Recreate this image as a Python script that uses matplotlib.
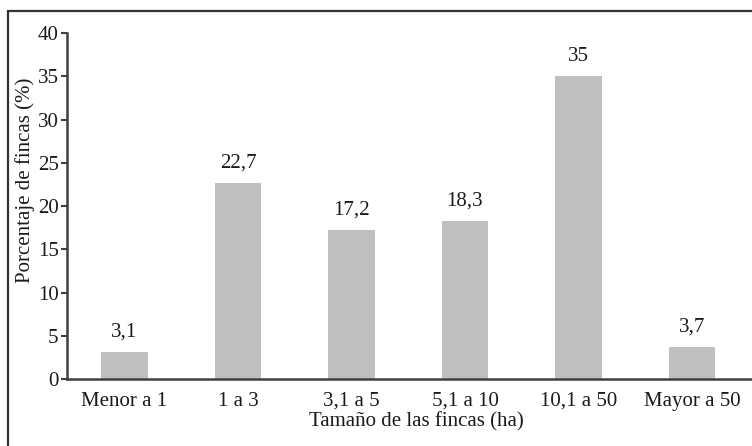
import matplotlib
matplotlib.use("Agg")
import matplotlib.pyplot as plt
from matplotlib.patches import Rectangle

categorias = ["Menor a 1", "1 a 3", "3,1 a 5", "5,1 a 10", "10,1 a 50", "Mayor a 50"]
porcentajes = [3.1, 22.7, 17.2, 18.3, 35, 3.7]
etiquetas = ["3,1", "22,7", "17,2", "18,3", "35", "3,7"]

plt.rcParams['font.family'] = ['Liberation Serif', 'DejaVu Serif']
fs = 15

fig = plt.figure(figsize=(7.52, 4.46), dpi=100)
ax = fig.add_axes([0.0891, 0.1502, 0.928, 0.7758])

x = list(range(len(categorias)))
ax.bar(x, porcentajes, width=0.41, color='#bfbfbf')
for xi, v, t in zip(x, porcentajes, etiquetas):
    ax.text(xi, v + 1.2, t, ha='center', va='bottom', fontsize=fs, color='#1a1a1a')

ax.set_xlim(-0.507, 5.643)
ax.set_ylim(0, 40)
ax.set_yticks(range(0, 41, 5))
ax.set_xticks(x)
ax.set_xticklabels(categorias)
ax.tick_params(axis='x', length=0, pad=9, labelsize=fs, colors='#1a1a1a')
ax.tick_params(axis='y', length=4, width=1.5, pad=2, labelsize=fs, colors='#1a1a1a', color='#404040')
for s in ['top', 'right']:
    ax.spines[s].set_visible(False)
for s in ['left', 'bottom']:
    ax.spines[s].set_color('#404040')
    ax.spines[s].set_linewidth(1.8)

ax.set_xlabel("Tamaño de las fincas (ha)", fontsize=fs, color='#1a1a1a', labelpad=1)
ax.set_ylabel("Porcentaje de fincas (%)", fontsize=fs, color='#1a1a1a')
ax.yaxis.set_label_coords(-0.046, 0.575)

# marco alrededor de la figura
fig.patches.append(Rectangle((8 / 752, -0.1), 1.2, 1.1 - 11 / 446, transform=fig.transFigure,
                             fill=False, edgecolor='#333333', linewidth=1.6))

fig.savefig("out.png", dpi=100)
